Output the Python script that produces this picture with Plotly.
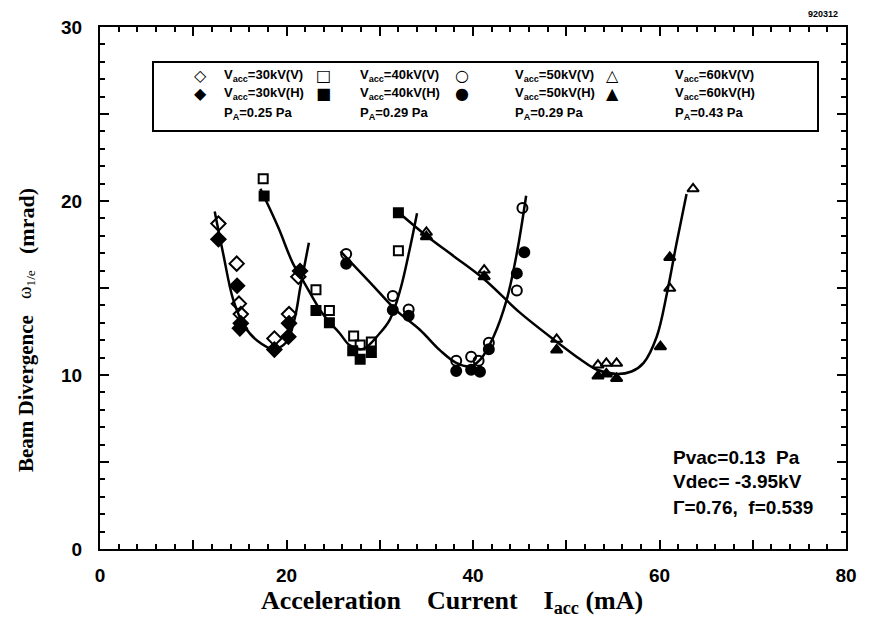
import plotly.graph_objects as go

# ---------------- data ----------------
# 30 kV
x30_v = [12.7, 14.66, 14.9, 15.1, 18.7, 20.27, 21.27]
y30_v = [18.7, 16.4, 14.1, 13.5, 12.1, 13.5, 15.65]
x30_h = [12.7, 14.7, 15.1, 15.0, 18.7, 20.2, 20.27, 21.45]
y30_h = [17.8, 15.13, 12.97, 12.68, 11.46, 12.2, 12.97, 15.98]
# 40 kV
x40_v = [17.5, 23.16, 24.6, 27.2, 27.9, 29.1, 32.0]
y40_v = [21.28, 14.9, 13.7, 12.24, 11.72, 11.9, 17.14]
x40_h = [17.6, 23.16, 24.6, 27.1, 27.9, 29.1, 32.0]
y40_h = [20.29, 13.7, 13.0, 11.4, 10.9, 11.3, 19.33]
# 50 kV
x50_v = [26.4, 31.4, 33.1, 38.2, 39.8, 40.6, 41.7, 44.7, 45.3]
y50_v = [16.95, 14.54, 13.77, 10.82, 11.05, 10.82, 11.86, 14.85, 19.6]
x50_h = [26.4, 31.4, 33.1, 38.2, 39.8, 40.75, 41.7, 44.7, 45.5]
y50_h = [16.4, 13.74, 13.4, 10.23, 10.3, 10.19, 11.48, 15.84, 17.05]
# 60 kV
x60_v = [35.0, 41.2, 48.97, 53.4, 54.3, 55.4, 61.1, 63.6]
y60_v = [18.2, 16.03, 12.05, 10.57, 10.67, 10.67, 14.98, 20.7]
x60_h = [35.0, 41.2, 48.97, 53.4, 54.3, 55.4, 60.1, 61.1]
y60_h = [17.95, 15.65, 11.44, 9.94, 10.06, 9.8, 11.63, 16.76]

# fitted curves
c30_x = [12.3, 13.2, 14.3, 15.5, 16.8, 18.6, 20.0, 20.9, 21.5, 22.4]
c30_y = [19.4, 17.0, 14.3, 12.8, 12.0, 11.5, 11.9, 13.3, 15.1, 17.6]
c40_x = [17.2, 19.1, 20.7, 21.8, 23.9, 25.7, 26.8, 28.2, 30.0, 31.1, 32.2, 33.2, 34.0]
c40_y = [20.7, 18.5, 16.4, 15.4, 13.5, 12.4, 11.7, 11.5, 12.4, 13.2, 14.9, 17.2, 19.3]
c50_x = [25.8, 29.0, 31.8, 34.3, 36.5, 38.2, 39.7, 40.8, 42.2, 43.6, 44.7, 45.7]
c50_y = [17.1, 15.3, 13.7, 12.6, 11.4, 10.7, 10.5, 10.9, 12.2, 14.3, 17.0, 20.3]
c60_x = [32.0, 35.0, 38.0, 41.2, 45.0, 49.0, 51.5, 53.3, 55.4, 57.0, 58.3, 59.7, 60.8, 61.8, 62.9]
c60_y = [19.35, 18.0, 16.8, 15.5, 13.6, 11.9, 10.9, 10.3, 10.06, 10.2, 10.7, 12.2, 14.7, 17.5, 20.4]

x_tick_vals = [0, 10, 20, 30, 40, 50, 60, 70, 80]
x_tick_text = ["0", "", "20", "", "40", "", "60", "", "80"]
y_tick_vals = [0, 5, 10, 15, 20, 25, 30]
y_tick_text = ["0", "", "10", "", "20", "", "30"]

legend_labels_v = ["V<sub>acc</sub>=30kV(V)", "V<sub>acc</sub>=40kV(V)",
                   "V<sub>acc</sub>=50kV(V)", "V<sub>acc</sub>=60kV(V)"]
legend_labels_h = ["V<sub>acc</sub>=30kV(H)", "V<sub>acc</sub>=40kV(H)",
                   "V<sub>acc</sub>=50kV(H)", "V<sub>acc</sub>=60kV(H)"]
legend_pa = ["P<sub>A</sub>=0.25 Pa", "P<sub>A</sub>=0.29 Pa",
             "P<sub>A</sub>=0.29 Pa", "P<sub>A</sub>=0.43 Pa"]
legend_open = ["◇", "□", "○", "△"]
legend_fill = ["◆", "■", "●", "▲"]

# ---------------- figure ----------------
W, H = 871, 620
L, R, T, B = 100, 25, 27, 71

def px(x):
    return (x - L) / (W - L - R)

def py(y):
    return 1 - (y - T) / (H - T - B)

fig = go.Figure()

for cx, cy in [(c30_x, c30_y), (c40_x, c40_y), (c50_x, c50_y), (c60_x, c60_y)]:
    fig.add_trace(go.Scatter(x=cx, y=cy, mode="lines",
                             line=dict(color="black", width=2.5, shape="spline", smoothing=1.0),
                             showlegend=False, hoverinfo="skip"))

series = [
    (x30_v, y30_v, "diamond-open", 11), (x30_h, y30_h, "diamond", 11),
    (x40_v, y40_v, "square-open", 9), (x40_h, y40_h, "square", 9),
    (x50_v, y50_v, "circle-open", 10), (x50_h, y50_h, "circle", 10),
    (x60_v, y60_v, "triangle-up-open", 10), (x60_h, y60_h, "triangle-up", 10),
]
for sx, sy, sym, sz in series:
    fig.add_trace(go.Scatter(x=sx, y=sy, mode="markers",
                             marker=dict(symbol=sym, size=sz, color="black",
                                         line=dict(color="black", width=2)),
                             showlegend=False))

anns = []
leg_sym_x = [200, 323, 462, 612]
leg_txt_x = [222, 358, 513, 673]
row_y = [75, 94, 113]
lf = dict(family="Liberation Sans", size=13, color="black")
sf = dict(family="DejaVu Sans", size=16, color="black")
for i in range(4):
    for r, syms in enumerate([legend_open, legend_fill]):
        anns.append(dict(x=px(leg_sym_x[i]), y=py(row_y[r]), xref="paper", yref="paper",
                         text="<b>" + syms[i] + "</b>", showarrow=False,
                         xanchor="center", yanchor="middle", font=sf))
    for r, labels in enumerate([legend_labels_v, legend_labels_h, legend_pa]):
        anns.append(dict(x=px(leg_txt_x[i]), y=py(row_y[r]), xref="paper", yref="paper",
                         text="<b>" + labels[i] + "</b>", showarrow=False,
                         xanchor="left", yanchor="middle", font=lf))

# info text
info = ["<b>Pvac=0.13  Pa</b>", "<b>Vdec= -3.95kV</b>", "<b>Γ=0.76,  f=0.539</b>"]
for t, yy in zip(info, [457, 481, 507]):
    anns.append(dict(x=px(671), y=py(yy), xref="paper", yref="paper", text=t, showarrow=False,
                     xanchor="left", yanchor="middle",
                     font=dict(family="Liberation Sans", size=19, color="black")))

anns.append(dict(x=px(840), y=py(14), xref="paper", yref="paper", text="<b>920312</b>",
                 showarrow=False, xanchor="right", yanchor="middle",
                 font=dict(family="Liberation Sans", size=9, color="black")))

# axis titles
anns.append(dict(x=px(452), y=py(602), xref="paper", yref="paper",
                 text="<b>Acceleration    Current    I<sub>acc</sub> (mA)</b>", showarrow=False,
                 xanchor="center", yanchor="middle",
                 font=dict(family="Liberation Serif", size=26, color="black")))
ytitle_parts = [("<b>Beam Divergence</b>", 394, 21),
                ("ω<sub>1/e</sub>", 285, 19),
                ("<b>(mrad)</b>", 221, 22)]
for t, yy, fs in ytitle_parts:
    anns.append(dict(x=px(26), y=py(yy), xref="paper", yref="paper", textangle=-90,
                     text=t, showarrow=False, xanchor="center", yanchor="middle",
                     font=dict(family="Liberation Serif", size=fs, color="black")))

shapes = [dict(type="rect", xref="paper", yref="paper", x0=px(153), x1=px(818), y0=py(131), y1=py(62),
               line=dict(color="black", width=2))]

axis_common = dict(showgrid=False, zeroline=False, showline=True, linecolor="black", linewidth=2,
                   mirror="ticks", ticks="inside", ticklen=9, tickwidth=2, tickcolor="black",
                   tickfont=dict(family="Liberation Sans", size=19, color="black", weight="bold"))

fig.update_layout(
    width=W, height=H,
    margin=dict(l=L, r=R, t=T, b=B),
    paper_bgcolor="white", plot_bgcolor="white",
    showlegend=False,
    xaxis=dict(range=[0, 80], tickmode="array", tickvals=x_tick_vals, ticktext=x_tick_text,
               minor=dict(tickmode="linear", tick0=0, dtick=2, ticks="inside", ticklen=5,
                          tickwidth=1.5, tickcolor="black"),
               ticklabelstandoff=8, **axis_common),
    yaxis=dict(range=[0, 30], tickmode="array", tickvals=y_tick_vals, ticktext=y_tick_text,
               minor=dict(tickmode="linear", tick0=0, dtick=1, ticks="inside", ticklen=5,
                          tickwidth=1.5, tickcolor="black"),
               ticklabelstandoff=12, **axis_common),
    annotations=anns, shapes=shapes,
)

fig.write_html("out.html", config={"displayModeBar": False},
               post_script="document.body.style.margin='0';")
